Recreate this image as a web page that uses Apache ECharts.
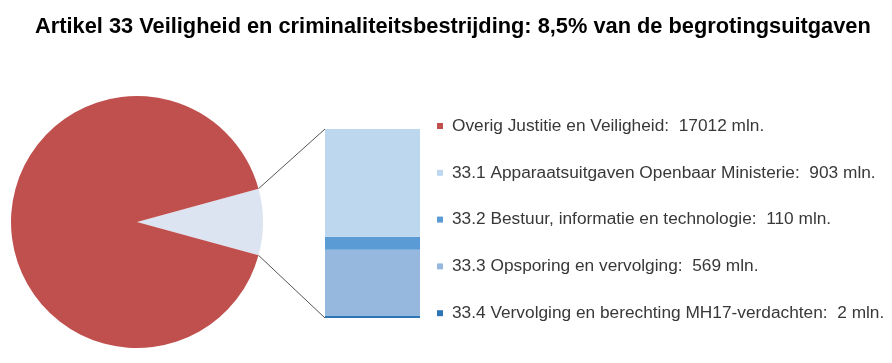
<!DOCTYPE html>
<html><head><meta charset="utf-8">
<script src="https://cdn.jsdelivr.net/npm/echarts@6/dist/echarts.min.js"></script>
<style>html,body{margin:0;padding:0;background:#fff}#c{width:892px;height:363px}</style>
</head><body><div id="c"></div>
<script>
const titleText = 'Artikel 33 Veiligheid en criminaliteitsbestrijding: 8,5% van de begrotingsuitgaven';
const overigName = 'Overig Justitie en Veiligheid';
const overigValue = 17012;
const artikelName = 'Artikel 33';
const barNames = [
  '33.1 Apparaatsuitgaven Openbaar Ministerie',
  '33.2 Bestuur, informatie en technologie',
  '33.3 Opsporing en vervolging',
  '33.4 Vervolging en berechting MH17-verdachten'
];
const barValues = [903, 110, 569, 2];
const unit = 'mln.';

const barColors = ['#BDD7EE', '#5B9BD5', '#97B8DE', '#2E75B6'];
const pieColors = ['#DCE3F1', '#C0504D'];

const artikelTotal = barValues.reduce((a, b) => a + b, 0);
const grandTotal = artikelTotal + overigValue;
const halfAngle = artikelTotal / grandTotal * 360 / 2;

const valueByName = {};
valueByName[overigName] = overigValue;
barNames.forEach((n, i) => valueByName[n] = barValues[i]);

const pieCenter = [137, 222];
const pieRadius = 126;
const grid = { left: 325, top: 129, width: 95, height: 189 };

const chart = echarts.init(document.getElementById('c'), null, { renderer: 'canvas' });

const barSeries = [];
for (let i = barNames.length - 1; i >= 0; i--) {
  barSeries.push({
    type: 'bar', name: barNames[i], stack: 'a33',
    data: [barValues[i]],
    barWidth: '100%',
    barMinHeight: i === barNames.length - 1 ? 2 : 0,
    z: i === barNames.length - 1 ? 5 : 2,
    itemStyle: { color: barColors[i], borderWidth: 0 },
    emphasis: { disabled: true },
    silent: true
  });
}

chart.setOption({
  animation: false,
  title: {
    text: titleText, left: 30, top: 11,
    textStyle: { fontFamily: 'Liberation Sans, Arial, sans-serif', fontSize: 21.8, fontWeight: 'bold', color: '#000' }
  },
  legend: {
    orient: 'vertical', left: 432, top: 112,
    itemWidth: 6, itemHeight: 6, itemGap: 28.8,
    icon: 'rect',
    selectedMode: false,
    data: [overigName].concat(barNames),
    formatter: n => n + ':  ' + valueByName[n] + ' ' + unit,
    textStyle: { fontFamily: 'Liberation Sans, Arial, sans-serif', fontSize: 17.3, color: '#383838', lineHeight: 18, padding: [0, 0, 0, 4] }
  },
  grid: Object.assign({ containLabel: false }, grid),
  xAxis: { type: 'category', data: [artikelName], show: false },
  yAxis: { type: 'value', min: 0, max: artikelTotal, show: false },
  series: [
    {
      type: 'pie', center: pieCenter, radius: pieRadius,
      startAngle: halfAngle, clockwise: true,
      label: { show: false }, labelLine: { show: false },
      itemStyle: { borderWidth: 0 },
      emphasis: { disabled: true }, silent: true,
      data: [
        { name: artikelName, value: artikelTotal, itemStyle: { color: pieColors[0] } },
        { name: overigName, value: overigValue, itemStyle: { color: pieColors[1] } }
      ]
    }
  ].concat(barSeries)
});

// connector lines from the pie slice edges to the bar corners
const rad = halfAngle * Math.PI / 180;
const edgeTop = [pieCenter[0] + pieRadius * Math.cos(rad), pieCenter[1] - pieRadius * Math.sin(rad)];
const edgeBot = [pieCenter[0] + pieRadius * Math.cos(rad), pieCenter[1] + pieRadius * Math.sin(rad)];
const barTop = chart.convertToPixel({ gridIndex: 0 }, [0, artikelTotal]);
const barBot = chart.convertToPixel({ gridIndex: 0 }, [0, 0]);
const barLeft = grid.left;
chart.setOption({
  graphic: [
    { type: 'line', shape: { x1: edgeTop[0], y1: edgeTop[1], x2: barLeft, y2: barTop[1] }, style: { stroke: '#555', lineWidth: 1 }, silent: true },
    { type: 'line', shape: { x1: edgeBot[0], y1: edgeBot[1], x2: barLeft, y2: barBot[1] }, style: { stroke: '#555', lineWidth: 1 }, silent: true }
  ]
});
</script>
</body></html>
